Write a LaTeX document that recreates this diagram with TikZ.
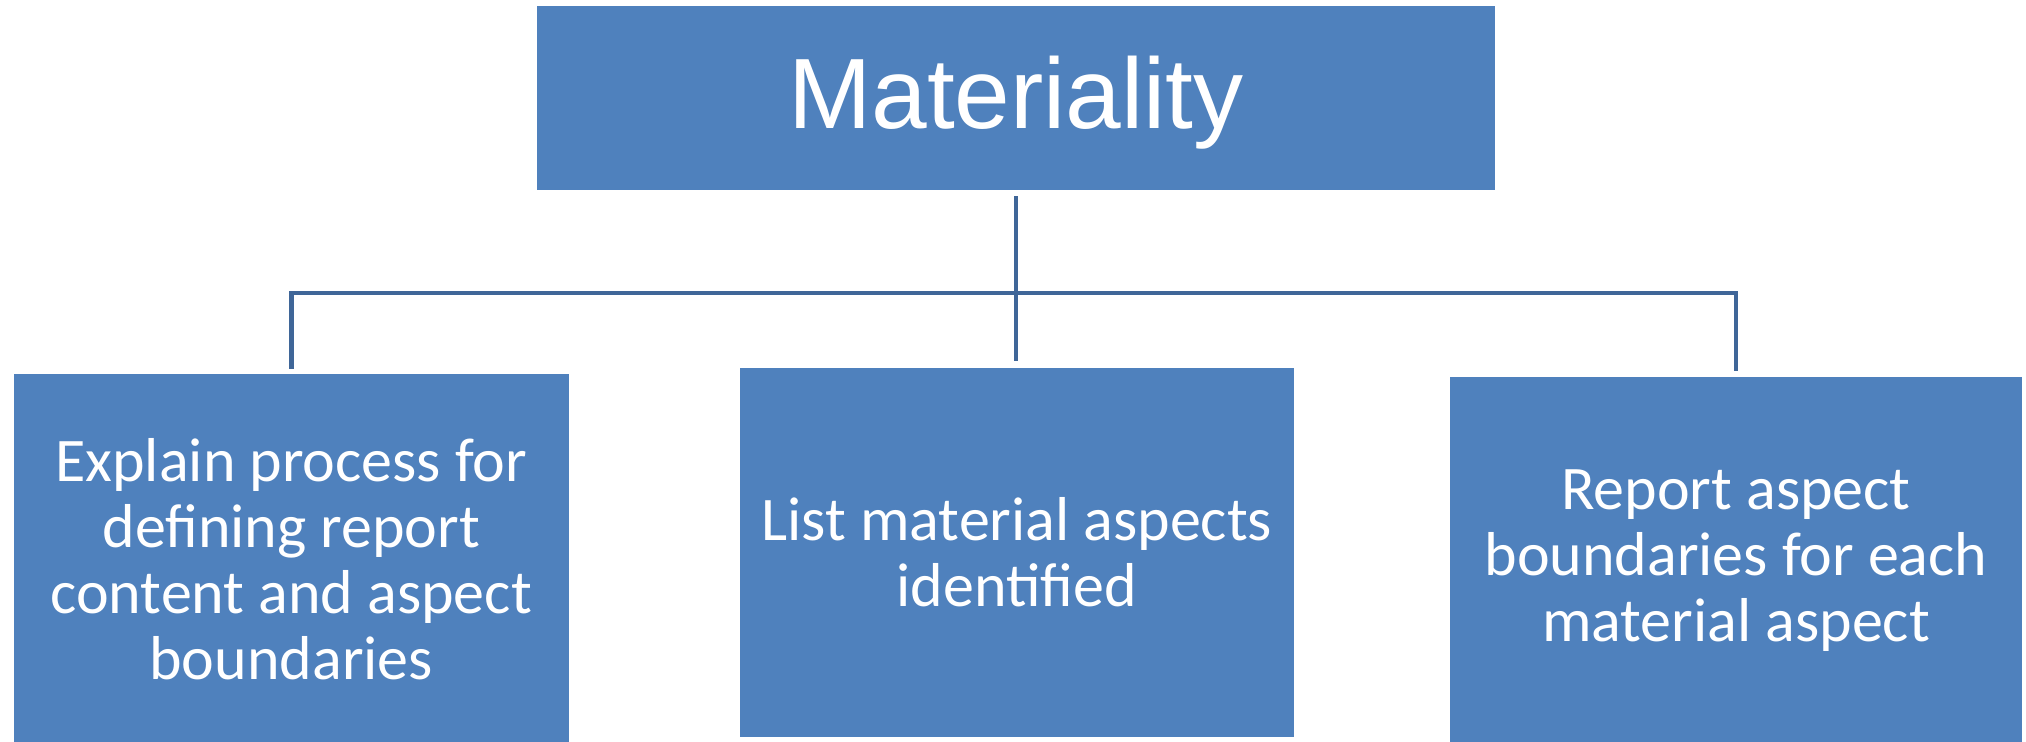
\documentclass[tikz,border=0pt]{standalone}
\usepackage{fontspec}
\newfontfamily\titlefont{Liberation Sans}
\newfontfamily\bodyfont{Carlito}
\definecolor{boxblue}{HTML}{4F81BD}
\definecolor{linkblue}{HTML}{3F6698}
\begin{document}
\begin{tikzpicture}[x=0.5pt,y=-0.5pt,
  box/.style={fill=boxblue, draw=none, inner sep=0pt, text=white, align=center},
  toptext/.style={font=\titlefont\fontsize{50pt}{54pt}\selectfont},
  subtext/.style={font=\bodyfont\fontsize{31pt}{33pt}\selectfont},
  conn/.style={draw=linkblue, line width=2.3pt}]
\useasboundingbox (0,0) rectangle (2026,741);
% top heading box
\node[box, minimum width=479pt, minimum height=92pt] (top) at (1016,98) {};
\node[toptext, text=white, inner sep=0pt] (toplabel) at (1016,103) {Materiality};
% three child boxes
\node[box, subtext, minimum width=277.25pt, minimum height=185.5pt] (left) at (291.25,559.5)
  {Explain process for\\defining report\\content and aspect\\boundaries};
\node[box, subtext, minimum width=277pt, minimum height=184.5pt] (mid) at (1017,552.5)
  {List material aspects\\identified};
\node[box, subtext, minimum width=286pt, minimum height=184pt] (right) at (1736,561)
  {Report aspect\\boundaries for each\\material aspect};
% branching connectors
\coordinate (bus) at (1016,293);
\draw[conn, shorten <=3pt, shorten >=3.5pt] (top.south -| bus) -- (mid.north -| bus);
\draw[conn, shorten <=2.5pt, shorten >=3pt] (left.north) |- (bus) -| (right.north);
\end{tikzpicture}
\end{document}
